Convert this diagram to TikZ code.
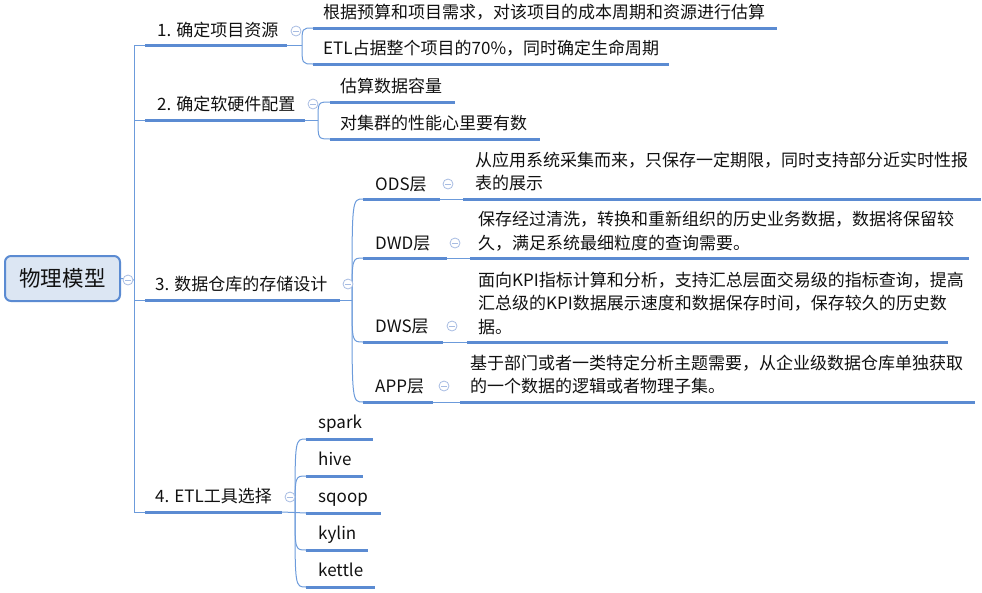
\documentclass[tikz,border=0pt]{standalone}
\usepackage{fontspec}
\setmainfont{Noto Sans CJK SC}
\definecolor{lineblue}{HTML}{5B8BD2}
\definecolor{thinblue}{HTML}{6C9BDB}
\definecolor{collc}{HTML}{A7BCE2}
\definecolor{rootfill}{HTML}{DCE6F3}
\definecolor{txt}{HTML}{111111}
\tikzset{
  uline/.style={draw=lineblue,line width=3pt},
  conn/.style={draw=thinblue,line width=1pt},
  lbl/.style={inner sep=0pt,anchor=base west,font=\fontsize{17}{23.3}\selectfont,text=txt},
  desc/.style={lbl,align=left},
  coll/.style={circle,draw=collc,fill=white,line width=0.8pt,minimum size=10pt,inner sep=0pt,
    path picture={\draw[collc,line width=0.8pt] ([xshift=-2.6pt]path picture bounding box.center) -- ([xshift=2.6pt]path picture bounding box.center);}},
  rootbox/.style={draw=lineblue,line width=2pt,fill=rootfill,rounded corners=6pt,
    minimum width=115pt,minimum height=45pt,inner sep=0pt,font=\fontsize{21.5}{26}\selectfont,text=txt}
}
% name, x1, x2, yline, textx, text baseline (last line), text
\newcommand\topic[7]{%
  \coordinate (#1-l) at (#2,#4);
  \coordinate (#1-r) at (#3,#4);
  \node[lbl] (#1) at (#5,#6) {#7};
}
\newcommand\descr[7]{%
  \coordinate (#1-l) at (#2,#4);
  \coordinate (#1-r) at (#3,#4);
  \node[desc] (#1) at (#5,#6) {#7};
}
\begin{document}
\begin{tikzpicture}[x=1pt,y=-1pt]
\useasboundingbox (0,0) rectangle (982,592);

% root
\node[rootbox] (root) at (62.5,278.5) {物理模型};
\coordinate (trunk) at (134,280);

% level 1
\topic{t1}{145}{287}{45}{157}{36.5}{1. 确定项目资源}
\topic{t2}{145}{305}{120}{157}{110}{2. 确定软硬件配置}
\topic{t3}{145}{340}{300}{155}{290.5}{3. 数据仓库的存储设计}
\topic{t4}{145}{282}{512}{155}{502.5}{4. ETL工具选择}

% children of t1
\topic{t1a}{313}{777}{28}{323}{18.5}{根据预算和项目需求，对该项目的成本周期和资源进行估算}
\topic{t1b}{313}{669}{64}{323}{54.5}{ETL占据整个项目的70\%，同时确定生命周期}
% children of t2
\topic{t2a}{330}{455}{102}{340}{92.5}{估算数据容量}
\topic{t2b}{330}{540}{139}{340}{129.5}{对集群的性能心里要有数}
% children of t3
\topic{ods}{363}{440}{199}{375}{190}{ODS层}
\topic{dwd}{363}{447}{258}{375}{249}{DWD层}
\topic{dws}{363}{443}{342}{375}{332.5}{DWS层}
\topic{app}{363}{433}{402}{375}{392.5}{APP层}
\descr{odsd}{463}{981}{199}{475}{189.5}{从应用系统采集而来，只保存一定期限，同时支持部分近实时性报\\表的展示}
\descr{dwdd}{470}{969}{258}{478}{249}{保存经过清洗，转换和重新组织的历史业务数据，数据将保留较\\久，满足系统最细粒度的查询需要。}
\descr{dwsd}{467}{948}{342}{478}{333}{面向KPI指标计算和分析，支持汇总层面交易级的指标查询，提高\\汇总级的KPI数据展示速度和数据保存时间，保存较久的历史数\\据。}
\descr{appd}{460}{975}{402}{470}{392.5}{基于部门或者一类特定分析主题需要，从企业级数据仓库单独获取\\的一个数据的逻辑或者物理子集。}
% children of t4
\topic{spark}{306}{373}{439}{318}{428}{spark}
\topic{hive}{306}{363}{476}{318}{465}{hive}
\topic{sqoop}{306}{381}{513}{318}{502}{sqoop}
\topic{kylin}{306}{368}{550}{318}{539}{kylin}
\topic{kettle}{306}{375}{587}{318}{576}{kettle}

% connectors
\draw[conn] (root.east) -- (trunk);
\draw[conn] (t1-l) -| (trunk);
\draw[conn] (t4-l) -| (trunk);
\draw[conn] (t2-l) -- (trunk |- t2-l);
\draw[conn] (t3-l) -- (trunk |- t3-l);

\coordinate (j1) at (302,45);
\draw[conn] (t1-r) -- (j1);
\draw[conn] (j1) .. controls (j1 |- t1a-l) .. (t1a-l);
\draw[conn] (j1) .. controls (j1 |- t1b-l) .. (t1b-l);

\coordinate (j2) at (318,120);
\draw[conn] (t2-r) -- (j2);
\draw[conn] (j2) .. controls (j2 |- t2a-l) .. (t2a-l);
\draw[conn] (j2) .. controls (j2 |- t2b-l) .. (t2b-l);

\coordinate (j3) at (352,300);
\draw[conn] (t3-r) -- (j3);
\draw[conn] (j3) .. controls (j3 |- ods-l) .. (ods-l);
\draw[conn] (j3) .. controls (j3 |- dwd-l) .. (dwd-l);
\draw[conn] (j3) .. controls (j3 |- dws-l) .. (dws-l);
\draw[conn] (j3) .. controls (j3 |- app-l) .. (app-l);
\draw[conn] (ods-r) -- (odsd-l);
\draw[conn] (dwd-r) -- (dwdd-l);
\draw[conn] (dws-r) -- (dwsd-l);
\draw[conn] (app-r) -- (appd-l);

\coordinate (j4) at (295,512);
\draw[conn] (t4-r) -- (sqoop-l);
\draw[conn] (j4) .. controls (j4 |- spark-l) .. (spark-l);
\draw[conn] (j4) .. controls (j4 |- hive-l) .. (hive-l);
\draw[conn] (j4) .. controls (j4 |- kylin-l) .. (kylin-l);
\draw[conn] (j4) .. controls (j4 |- kettle-l) .. (kettle-l);

% underlines
\foreach \n in {t1,t2,t3,t4,t1a,t1b,t2a,t2b,ods,dwd,dws,app,odsd,dwdd,dwsd,appd,spark,hive,sqoop,kylin,kettle}
  \draw[uline] (\n-l) -- (\n-r);

% collapse markers
\node[coll] (c0) at (128,280) {};
\node[coll] (c1) at (296,31) {};
\node[coll] (c2) at (313,104) {};
\node[coll] (c3) at (348,284) {};
\node[coll] (c4) at (290,497) {};
\node[coll] (c5) at (448,184) {};
\node[coll] (c6) at (455,243) {};
\node[coll] (c7) at (452,326) {};
\node[coll] (c8) at (444,386) {};
\end{tikzpicture}
\end{document}
